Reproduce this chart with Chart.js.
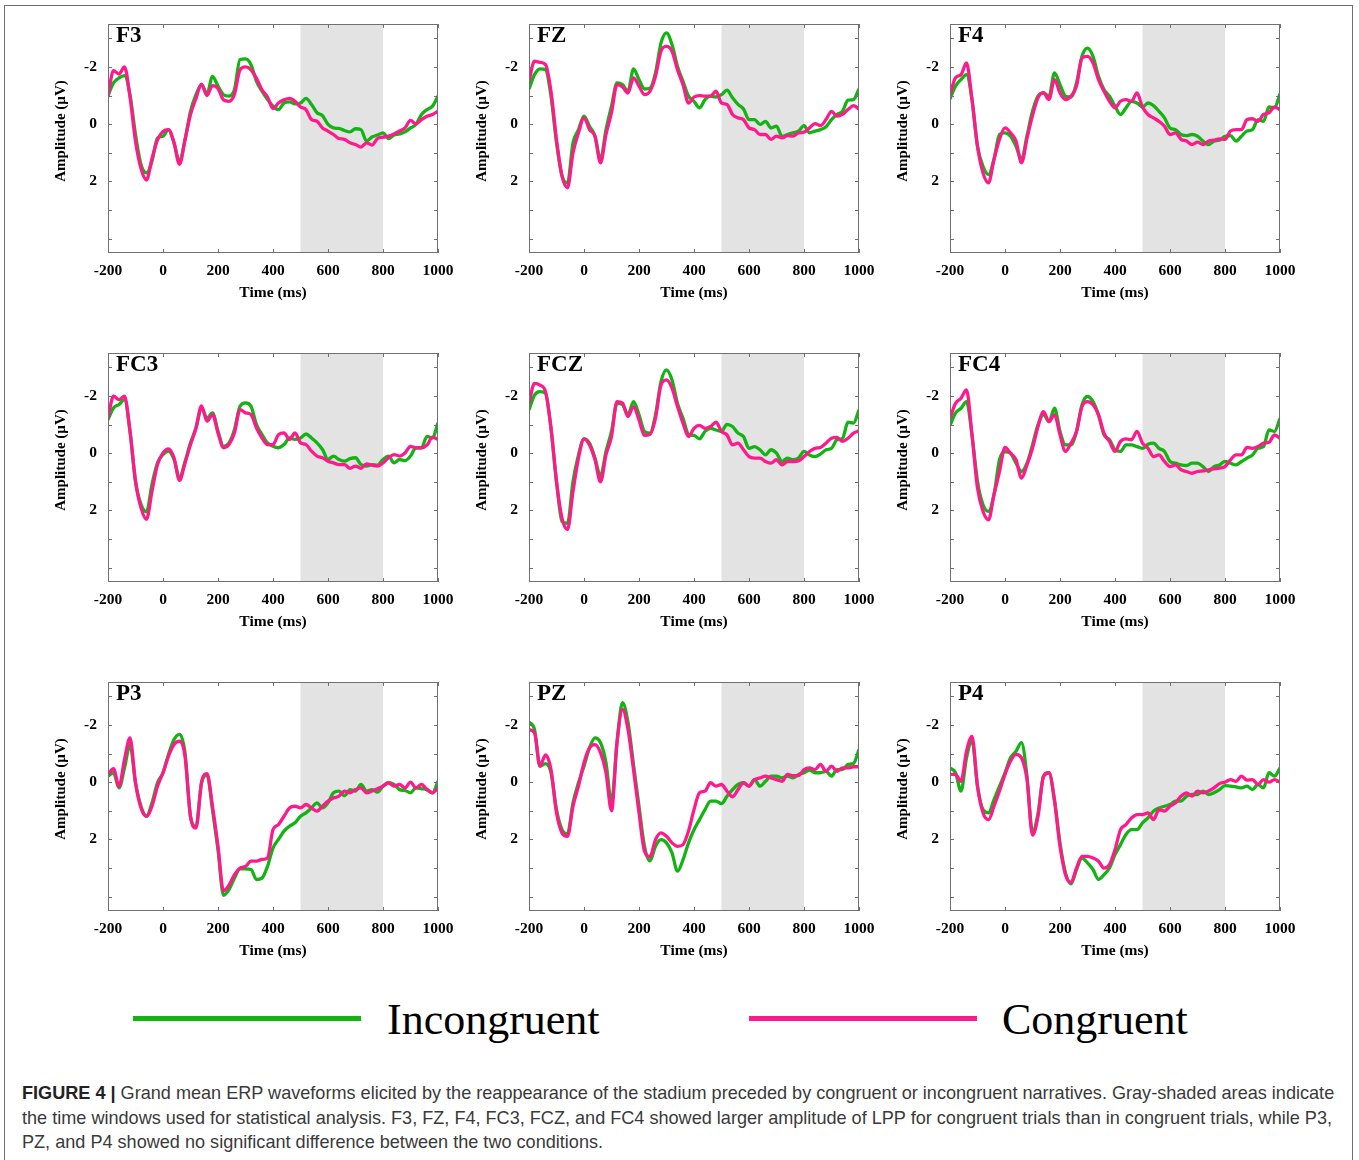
<!DOCTYPE html>
<html>
<head>
<meta charset="utf-8">
<title>Figure 4 - Grand mean ERP waveforms</title>
<script src="https://cdn.jsdelivr.net/npm/chart.js@4.4.1/dist/chart.umd.min.js"></script>
<style>
  html, body { margin: 0; padding: 0; background: #fff; overflow: hidden; }
  #page { position: relative; width: 1359px; height: 1160px; }
  #frame { position: absolute; left: 4px; top: 5px; width: 1347px; height: 1200px; border: 1.5px solid #6e6e6e; }
  canvas.panel { position: absolute; }
  .legline { position: absolute; height: 5px; }
  .legtext { position: absolute; font-family: "Liberation Serif", serif; font-size: 44px; line-height: 44px; color: #000; white-space: nowrap; }
  #caption { position: absolute; left: 22px; top: 1081px; font-family: "Liberation Sans", Arial, sans-serif; font-size: 18.1px; line-height: 24.5px; color: #3a3a3a; white-space: nowrap; }
  #caption b { color: #222; }
</style>
</head>
<body>
<div id="page">
  <div id="frame"></div>
  <div class="legline" style="left:133px; top:1016px; width:228px; background:#12b312;"></div>
  <div class="legtext" style="left:387px; top:998px;">Incongruent</div>
  <div class="legline" style="left:749px; top:1016px; width:228px; background:#ff1a8c;"></div>
  <div class="legtext" style="left:1002px; top:998px;">Congruent</div>
  <div id="caption"><b>FIGURE 4 |</b> Grand mean ERP waveforms elicited by the reappearance of the stadium preceded by congruent or incongruent narratives. Gray-shaded areas indicate<br>the time windows used for statistical analysis. F3, FZ, F4, FC3, FCZ, and FC4 showed larger amplitude of LPP for congruent trials than in congruent trials, while P3,<br>PZ, and P4 showed no significant difference between the two conditions.</div>
</div>
<script>
// time points (ms), sampled every 20 ms
const times = [-200, -180, -160, -140, -120, -100, -80, -60, -40, -20, 0, 20, 40, 60, 80, 100, 120, 140, 160, 180,
  200, 220, 240, 260, 280, 300, 320, 340, 360, 380, 400, 420, 440, 460, 480, 500, 520, 540, 560, 580,
  600, 620, 640, 660, 680, 700, 720, 740, 760, 780, 800, 820, 840, 860, 880, 900, 920, 940, 960, 980, 1000];

const xTicks = [-200, 0, 200, 400, 600, 800, 1000];
const yTicks = [-3, -2, -1, 0, 1, 2, 3, 4];
const yLabelled = [-2, 0, 2];
const analysisWindow = [500, 800];

// amplitudes (uV)
const f3Incong = [-1.0, -1.44, -1.62, -1.70, -1.03, 0.36, 1.41, 1.70, 1.29, 0.48, 0.42, 0.19, 0.65, 1.3, 0.55, -0.45, -1.03, -1.38, -1.06, -1.67, -1.33, -1.03, -0.98, -1.21, -2.26, -2.28, -2.08, -1.5, -1.15, -0.86, -0.63, -0.51, -0.74, -0.78, -0.71, -0.74, -0.9, -0.69, -0.4, -0.3, 0.01, 0.13, 0.15, 0.22, 0.27, 0.16, 0.19, 0.59, 0.45, 0.38, 0.3, 0.5, 0.38, 0.34, 0.27, 0.13, 0.01, -0.34, -0.51, -0.63, -0.98];
const f3Cong = [-1.0, -1.87, -1.75, -2.0, -0.95, 0.6, 1.55, 1.95, 1.2, 0.55, 0.25, 0.19, 0.65, 1.4, 0.55, -0.34, -0.9, -1.4, -1.0, -1.35, -1.25, -0.85, -0.8, -1.05, -1.9, -2.0, -1.9, -1.6, -1.2, -0.95, -0.55, -0.74, -0.85, -0.9, -0.8, -0.6, -0.51, -0.16, -0.1, 0.13, 0.24, 0.36, 0.5, 0.53, 0.65, 0.71, 0.8, 0.65, 0.73, 0.5, 0.45, 0.42, 0.34, 0.24, 0.13, -0.13, -0.01, -0.16, -0.28, -0.34, -0.45];

const fzIncong = [-1.23, -1.73, -1.93, -1.9, -0.98, 0.65, 1.81, 2.05, 0.65, 0.19, -0.28, 0.07, 0.42, 1.23, 0.19, -0.63, -1.44, -1.38, -1.15, -1.93, -1.56, -1.23, -1.26, -1.79, -2.84, -3.19, -2.78, -2.02, -1.5, -0.98, -0.8, -0.57, -0.86, -0.98, -0.95, -1.03, -1.19, -0.92, -0.69, -0.53, -0.16, -0.16, 0.01, -0.1, 0.13, 0.07, 0.42, 0.36, 0.3, 0.24, 0.05, 0.3, 0.24, 0.19, 0.09, -0.16, -0.34, -0.45, -0.84, -0.86, -1.23];
const fzCong = [-1.5, -2.2, -2.16, -2.08, -1.15, 0.53, 1.81, 2.22, 1.0, 0.3, -0.22, 0.19, 0.42, 1.35, 0.36, -0.4, -1.38, -1.3, -1.09, -1.62, -1.33, -1.03, -1.15, -1.67, -2.55, -2.72, -2.55, -1.9, -1.38, -0.74, -0.95, -1.0, -0.98, -0.98, -1.15, -0.74, -0.69, -0.34, -0.22, -0.16, 0.13, 0.19, 0.36, 0.36, 0.53, 0.42, 0.48, 0.4, 0.42, 0.3, 0.28, 0.13, -0.02, 0.05, -0.16, -0.45, -0.28, -0.34, -0.51, -0.65, -0.53];

const f4Incong = [-0.88, -1.33, -1.56, -1.73, -0.86, 0.77, 1.47, 1.76, 1.23, 0.36, 0.3, 0.42, 0.77, 1.23, 0.4, -0.45, -0.98, -1.09, -0.98, -1.79, -1.38, -0.98, -0.95, -1.44, -2.37, -2.66, -2.37, -1.67, -1.21, -0.98, -0.63, -0.34, -0.57, -0.8, -0.74, -0.6, -0.74, -0.65, -0.45, -0.22, 0.13, 0.19, 0.36, 0.4, 0.36, 0.42, 0.59, 0.71, 0.59, 0.56, 0.42, 0.4, 0.59, 0.42, 0.24, 0.19, -0.16, -0.1, -0.6, -0.57, -1.07];
const f4Cong = [-1.03, -1.62, -1.73, -2.14, -0.86, 0.77, 1.7, 2.05, 1.23, 0.53, 0.13, 0.3, 0.59, 1.35, 0.5, -0.3, -0.92, -1.1, -0.86, -1.56, -1.09, -0.86, -0.98, -1.33, -2.31, -2.37, -2.14, -1.56, -1.15, -0.8, -0.57, -0.8, -0.86, -0.8, -1.09, -0.6, -0.34, -0.22, -0.1, 0.07, 0.36, 0.3, 0.53, 0.59, 0.71, 0.63, 0.71, 0.59, 0.56, 0.51, 0.53, 0.24, 0.19, 0.19, -0.16, -0.19, -0.1, -0.34, -0.4, -0.6, -0.51];

const fc3Incong = [-1.17, -1.58, -1.7, -1.87, -0.77, 0.98, 1.79, 2.05, 1.09, 0.34, 0.05, -0.07, 0.22, 0.85, 0.3, -0.36, -0.88, -1.58, -1.23, -1.41, -0.77, -0.24, -0.36, -0.83, -1.64, -1.76, -1.64, -1.0, -0.65, -0.36, -0.24, -0.19, -0.3, -0.53, -0.48, -0.53, -0.67, -0.53, -0.36, -0.13, 0.22, 0.1, 0.22, 0.28, 0.19, 0.16, 0.4, 0.45, 0.4, 0.42, 0.22, 0.1, 0.34, 0.22, 0.26, 0.1, -0.19, -0.19, -0.59, -0.53, -1.06];
const fc3Cong = [-1.23, -1.99, -1.87, -1.99, -0.77, 0.98, 1.91, 2.31, 1.33, 0.4, -0.01, -0.15, 0.16, 0.95, 0.35, -0.3, -0.88, -1.65, -1.12, -1.35, -0.71, -0.19, -0.3, -0.71, -1.52, -1.41, -1.35, -0.88, -0.53, -0.3, -0.3, -0.65, -0.71, -0.48, -0.71, -0.36, -0.3, -0.07, 0.1, 0.16, 0.28, 0.34, 0.4, 0.4, 0.53, 0.45, 0.53, 0.37, 0.42, 0.45, 0.34, 0.16, 0.05, 0.1, -0.01, -0.24, -0.19, -0.19, -0.28, -0.56, -0.48];

const fczIncong = [-1.51, -2.03, -2.15, -2.09, -0.87, 0.99, 2.38, 2.45, 0.99, 0.06, -0.5, -0.35, 0.17, 0.8, -0.06, -0.76, -1.74, -1.7, -1.34, -1.8, -1.34, -0.76, -0.7, -1.34, -2.5, -2.91, -2.56, -1.74, -1.22, -0.66, -0.62, -0.5, -0.76, -0.87, -0.81, -0.76, -1.01, -0.93, -0.7, -0.58, -0.17, -0.23, -0.12, 0.06, -0.12, 0.0, 0.29, 0.17, 0.23, 0.17, -0.06, 0.06, 0.12, 0.03, -0.12, -0.17, -0.47, -0.52, -1.08, -1.05, -1.51];
const fczCong = [-1.74, -2.44, -2.38, -2.15, -0.87, 0.99, 2.27, 2.67, 1.34, 0.17, -0.5, -0.29, 0.23, 1.0, 0.06, -0.58, -1.8, -1.75, -1.28, -1.63, -1.16, -0.62, -0.66, -1.22, -2.38, -2.56, -2.27, -1.63, -1.05, -0.58, -0.87, -0.97, -0.87, -0.93, -1.08, -0.76, -0.64, -0.29, -0.35, -0.12, 0.12, 0.17, 0.17, 0.29, 0.35, 0.23, 0.41, 0.29, 0.29, 0.27, 0.12, -0.06, -0.17, -0.2, -0.35, -0.52, -0.55, -0.41, -0.52, -0.7, -0.78];

const fc4Incong = [-0.97, -1.4, -1.57, -1.8, -0.64, 0.99, 1.8, 2.03, 1.45, 0.23, -0.05, 0.0, 0.35, 0.64, 0.35, -0.29, -0.99, -1.35, -1.1, -1.57, -0.76, -0.29, -0.29, -0.76, -1.69, -1.98, -1.8, -1.34, -0.64, -0.47, -0.12, -0.06, -0.29, -0.29, -0.23, -0.17, -0.31, -0.35, -0.17, -0.06, 0.29, 0.35, 0.41, 0.43, 0.35, 0.35, 0.47, 0.64, 0.47, 0.41, 0.29, 0.35, 0.41, 0.29, 0.17, 0.06, -0.17, -0.23, -0.81, -0.76, -1.22];
const fc4Cong = [-1.22, -1.74, -1.92, -2.21, -0.64, 1.22, 2.03, 2.33, 1.45, 0.64, -0.2, 0.0, 0.23, 0.87, 0.41, -0.17, -0.93, -1.45, -1.1, -1.34, -0.64, -0.06, -0.35, -0.76, -1.63, -1.8, -1.69, -1.34, -0.7, -0.41, -0.06, -0.41, -0.5, -0.47, -0.76, -0.35, -0.17, 0.12, 0.06, 0.29, 0.47, 0.41, 0.58, 0.64, 0.7, 0.64, 0.62, 0.58, 0.55, 0.52, 0.47, 0.23, 0.06, 0.06, -0.2, -0.17, -0.23, -0.35, -0.38, -0.64, -0.52];

const p3Incong = [-0.21, -0.33, 0.2, -0.5, -1.3, 0.02, 0.84, 1.19, 0.72, 0.02, -0.33, -0.97, -1.49, -1.67, -1.03, 1.2, 1.55, 0.02, -0.25, 0.96, 2.36, 3.95, 3.75, 3.35, 3.03, 3.03, 3.05, 3.4, 3.35, 2.94, 2.3, 2.0, 1.71, 1.54, 1.42, 1.19, 1.07, 0.9, 0.72, 0.9, 0.72, 0.37, 0.31, 0.47, 0.26, 0.31, 0.08, 0.31, 0.26, 0.35, 0.14, 0.02, 0.08, 0.26, 0.29, 0.37, 0.2, 0.23, 0.26, 0.37, -0.03];
const p3Cong = [-0.27, -0.47, 0.14, -0.79, -1.55, 0.02, 0.9, 1.19, 0.84, 0.14, -0.33, -0.91, -1.32, -1.43, -0.91, 1.2, 1.6, 0.02, -0.3, 0.84, 2.24, 3.8, 3.6, 3.23, 3.0, 2.94, 2.76, 2.76, 2.7, 2.65, 1.66, 1.48, 1.19, 0.9, 0.84, 0.9, 0.78, 0.9, 1.01, 0.84, 0.66, 0.55, 0.49, 0.31, 0.37, 0.26, 0.2, 0.37, 0.31, 0.23, 0.14, 0.02, 0.14, 0.08, 0.2, 0.0, 0.2, 0.08, 0.26, 0.37, 0.2];

const pzIncong = [-2.1, -1.84, -0.56, -0.65, -0.33, 0.96, 1.66, 1.8, 0.72, 0.02, -0.56, -1.2, -1.55, -1.38, -0.68, 0.7, -1.38, -2.78, -2.08, -0.62, 0.84, 2.24, 2.75, 2.24, 2.01, 2.12, 2.47, 3.11, 2.71, 2.12, 1.66, 1.31, 0.96, 0.66, 0.66, 0.75, 0.49, 0.26, 0.08, 0.02, 0.14, -0.09, 0.14, -0.03, -0.21, -0.21, -0.15, -0.21, -0.15, -0.27, -0.33, -0.42, -0.33, -0.33, -0.38, -0.21, -0.44, -0.44, -0.62, -0.65, -1.14];
const pzCong = [-1.84, -1.73, -0.56, -0.95, -0.44, 1.07, 1.77, 1.89, 0.84, 0.14, -0.68, -1.2, -1.31, -1.03, -0.33, 1.0, -1.38, -2.54, -1.84, -0.44, 1.07, 2.41, 2.6, 2.01, 1.77, 1.89, 2.12, 2.24, 2.18, 1.71, 0.96, 0.37, 0.31, 0.02, 0.14, 0.08, 0.31, 0.51, 0.26, 0.02, 0.14, -0.09, -0.15, -0.21, -0.15, -0.09, -0.03, -0.27, -0.23, -0.23, -0.44, -0.5, -0.44, -0.62, -0.38, -0.56, -0.38, -0.5, -0.5, -0.54, -0.54];

const p4Incong = [-0.5, -0.33, 0.31, -0.85, -1.45, 0.14, 0.96, 1.07, 0.61, 0.14, -0.33, -0.85, -1.08, -1.38, -0.21, 1.75, 1.1, -0.21, -0.33, 0.61, 2.12, 3.17, 3.55, 3.05, 2.65, 2.82, 3.05, 3.4, 3.23, 3.0, 2.53, 2.18, 1.83, 1.66, 1.66, 1.42, 1.25, 1.01, 0.9, 0.84, 0.78, 0.66, 0.66, 0.49, 0.43, 0.43, 0.31, 0.43, 0.37, 0.26, 0.12, 0.14, 0.16, 0.2, 0.14, 0.26, 0.08, 0.2, -0.33, -0.21, -0.5];
const p4Cong = [-0.27, -0.27, -0.03, -1.08, -1.6, 0.14, 1.07, 1.31, 0.84, 0.31, -0.27, -0.73, -0.97, -0.85, -0.09, 1.85, 1.2, -0.21, -0.33, 0.66, 2.24, 3.23, 3.5, 3.0, 2.59, 2.59, 2.65, 2.76, 3.0, 2.88, 2.36, 1.66, 1.48, 1.25, 1.13, 1.13, 1.07, 1.31, 0.96, 1.01, 0.84, 0.72, 0.49, 0.37, 0.49, 0.31, 0.37, 0.31, 0.2, 0.05, 0.0, -0.09, -0.03, -0.21, -0.07, -0.09, 0.08, -0.09, 0.0, -0.09, 0.0];

const panels = [
  { name: 'F3', incong: f3Incong, cong: f3Cong, col: 0, row: 0 },
  { name: 'FZ', incong: fzIncong, cong: fzCong, col: 1, row: 0 },
  { name: 'F4', incong: f4Incong, cong: f4Cong, col: 2, row: 0 },
  { name: 'FC3', incong: fc3Incong, cong: fc3Cong, col: 0, row: 1 },
  { name: 'FCZ', incong: fczIncong, cong: fczCong, col: 1, row: 1 },
  { name: 'FC4', incong: fc4Incong, cong: fc4Cong, col: 2, row: 1 },
  { name: 'P3', incong: p3Incong, cong: p3Cong, col: 0, row: 2 },
  { name: 'PZ', incong: pzIncong, cong: pzCong, col: 1, row: 2 },
  { name: 'P4', incong: p4Incong, cong: p4Cong, col: 2, row: 2 }
];

const green = '#12b312';
const pink = '#ff1a8c';
const serif = '"Liberation Serif", "Times New Roman", serif';
const tickFont = { family: serif, size: 15.5, weight: 'bold' };

// plot area placement on the page
const colLefts = [108, 529, 950];
const rowTops = [24, 353, 682];
// top padding must be larger than the y scale's own label padding, or chart.js pushes the plot down
const AXIS_W = 107, AXIS_H = 55, PAD_TOP = 24, PAD_RIGHT = 25;

// shading, box with inward ticks, panel name and y title
const panelDecor = {
  id: 'panelDecor',
  beforeDatasetsDraw(chart) {
    const { ctx, chartArea: a, scales: { x } } = chart;
    const x0 = x.getPixelForValue(analysisWindow[0]);
    const x1 = x.getPixelForValue(analysisWindow[1]);
    ctx.save();
    ctx.fillStyle = '#e3e3e3';
    ctx.fillRect(x0, a.top, x1 - x0, a.bottom - a.top);
    ctx.restore();
  },
  afterDatasetsDraw(chart, args, opts) {
    const { ctx, chartArea: a, scales: { x, y } } = chart;
    ctx.save();
    ctx.strokeStyle = '#707070';
    ctx.lineWidth = 1;
    ctx.strokeRect(a.left + 0.5, a.top + 0.5, a.right - a.left - 1, a.bottom - a.top - 1);
    ctx.beginPath();
    yTicks.forEach(v => {
      const py = Math.round(y.getPixelForValue(v)) + 0.5;
      ctx.moveTo(a.left, py); ctx.lineTo(a.left + 4, py);
      ctx.moveTo(a.right, py); ctx.lineTo(a.right - 4, py);
    });
    xTicks.forEach(v => {
      const px = Math.round(x.getPixelForValue(v)) + 0.5;
      ctx.moveTo(px, a.bottom); ctx.lineTo(px, a.bottom - 4);
      ctx.moveTo(px, a.top); ctx.lineTo(px, a.top + 4);
    });
    ctx.stroke();

    ctx.fillStyle = '#000';
    ctx.font = 'bold 23px ' + serif;
    ctx.textBaseline = 'alphabetic';
    ctx.fillText(opts.name, a.left + 8, a.top + 18);

    ctx.font = 'bold 15px ' + serif;
    ctx.translate(a.left - 47, a.top + 107);
    ctx.rotate(-Math.PI / 2);
    ctx.textAlign = 'center';
    ctx.textBaseline = 'middle';
    ctx.fillText('Amplitude (\u00b5V)', 0, 0);
    ctx.restore();
  }
};

function makePanel(p) {
  const canvas = document.createElement('canvas');
  canvas.className = 'panel';
  canvas.width = AXIS_W + 330 + PAD_RIGHT;
  canvas.height = PAD_TOP + 229 + AXIS_H;
  canvas.style.left = (colLefts[p.col] - AXIS_W) + 'px';
  canvas.style.top = (rowTops[p.row] - PAD_TOP) + 'px';
  document.getElementById('page').appendChild(canvas);

  new Chart(canvas, {
    type: 'line',
    data: {
      datasets: [
        { label: 'Congruent', data: times.map((t, i) => ({ x: t, y: p.cong[i] })), borderColor: pink },
        { label: 'Incongruent', data: times.map((t, i) => ({ x: t, y: p.incong[i] })), borderColor: green }
      ]
    },
    options: {
      responsive: false,
      animation: false,
      devicePixelRatio: 1,
      layout: { padding: { left: 0, top: PAD_TOP, right: PAD_RIGHT, bottom: 0 } },
      elements: {
        point: { radius: 0 },
        line: { borderWidth: 3.3, tension: 0.4, cubicInterpolationMode: 'monotone', fill: false }
      },
      plugins: {
        legend: { display: false },
        tooltip: { enabled: false },
        panelDecor: { name: p.name }
      },
      scales: {
        x: {
          type: 'linear', min: -200, max: 1000,
          grid: { display: false, drawTicks: false },
          border: { display: false },
          afterBuildTicks: s => { s.ticks = xTicks.map(v => ({ value: v })); },
          afterFit: s => { s.height = AXIS_H; },
          ticks: { font: tickFont, color: '#000', padding: 9, maxRotation: 0, autoSkip: false, callback: v => String(v) },
          title: { display: true, text: 'Time (ms)', font: tickFont, color: '#000', padding: { top: 0, bottom: 6 } }
        },
        y: {
          type: 'linear', reverse: true, min: -3.5, max: 4.5,
          grid: { display: false, drawTicks: false },
          border: { display: false },
          afterBuildTicks: s => { s.ticks = yTicks.map(v => ({ value: v })); },
          afterFit: s => { s.width = AXIS_W; },
          ticks: { font: tickFont, color: '#000', padding: 11, autoSkip: false, callback: v => yLabelled.includes(v) ? String(v) : '' }
        }
      }
    },
    plugins: [panelDecor]
  });
}

panels.forEach(makePanel);
</script>
</body>
</html>
